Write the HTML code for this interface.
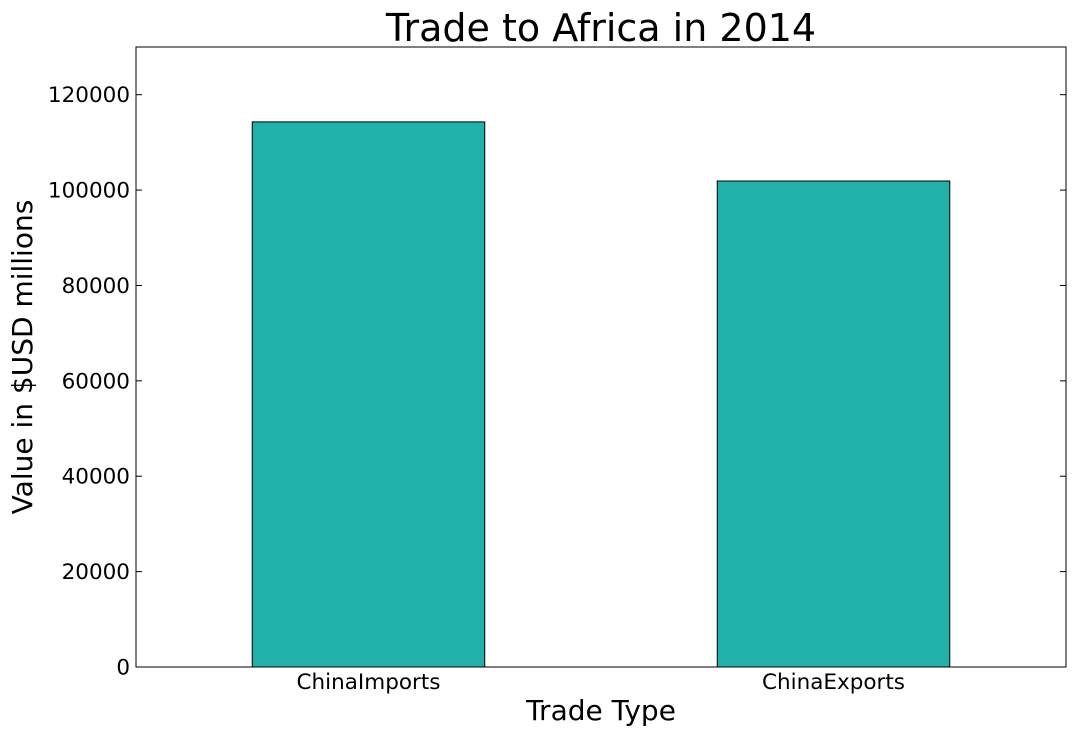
<!DOCTYPE html>
<html><head><meta charset="utf-8"><style>
body{margin:0;background:#fff;}
svg text{font-family:"DejaVu Sans","Liberation Sans",sans-serif;fill:#000;}
</style></head><body>
<svg id="chart" width="1075" height="737" viewBox="0 0 1075 737">
<rect x="0" y="0" width="1075" height="737" fill="#fff"/>
<text x="601" y="41" font-size="38" text-anchor="middle">Trade to Africa in 2014</text>
<text x="601" y="720" font-size="28" text-anchor="middle">Trade Type</text>
<text transform="translate(32,357) rotate(-90)" font-size="28" text-anchor="middle">Value in $USD millions</text>
<g id="bars"></g>
<g id="ticks"></g>
<rect x="136" y="47" width="930" height="620" fill="none" stroke="#000" stroke-width="1"/>
</svg>
<script>
const categories = ["ChinaImports", "ChinaExports"];
const values = [114300, 101900];
const yTicks = [0, 20000, 40000, 60000, 80000, 100000, 120000];
const yMax = 130000;
const L = 136, R = 1066, T = 47, B = 667;
const ns = "http://www.w3.org/2000/svg";
function yScale(v){ return B - (v / yMax) * (B - T); }
function xScale(i){ return L + (i + 0.5) / categories.length * (R - L); }
const bw = 0.5 * (R - L) / categories.length;
const bars = document.getElementById("bars");
const ticks = document.getElementById("ticks");
categories.forEach((c, i) => {
  const r = document.createElementNS(ns, "rect");
  r.setAttribute("x", xScale(i) - bw / 2);
  r.setAttribute("y", yScale(values[i]));
  r.setAttribute("width", bw);
  r.setAttribute("height", B - yScale(values[i]));
  r.setAttribute("fill", "#20b2aa");
  r.setAttribute("stroke", "#000");
  r.setAttribute("stroke-width", "1");
  
  
  bars.appendChild(r);
  const t = document.createElementNS(ns, "text");
  t.setAttribute("x", xScale(i));
  t.setAttribute("y", 689);
  t.setAttribute("font-size", "21.5");
  t.setAttribute("text-anchor", "middle");
  t.textContent = c;
  
  
  ticks.appendChild(t);
});
yTicks.forEach(v => {
  const y = yScale(v);
  [[L, L + 6], [R, R - 6]].forEach(([a, b]) => {
    const l = document.createElementNS(ns, "line");
    l.setAttribute("x1", a); l.setAttribute("x2", b);
    l.setAttribute("y1", y); l.setAttribute("y2", y);
    l.setAttribute("stroke", "#000");
    
    
    ticks.appendChild(l);
  });
  const t = document.createElementNS(ns, "text");
  t.setAttribute("x", 130);
  t.setAttribute("y", y + 7.5);
  t.setAttribute("font-size", "21.5");
  t.setAttribute("text-anchor", "end");
  t.textContent = v;
  
  
  ticks.appendChild(t);
});
</script>
</body></html>
